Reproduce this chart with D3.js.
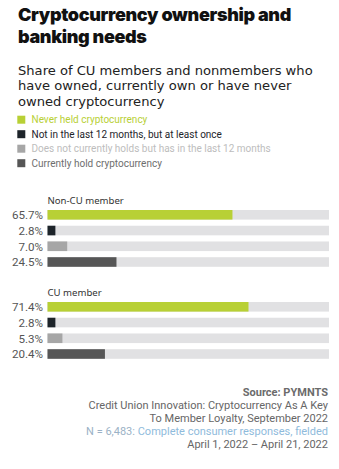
<!DOCTYPE html>
<html><head><meta charset="utf-8">
<script src="https://cdn.jsdelivr.net/npm/d3@7"></script>
<style>
html,body{margin:0;padding:0;background:#fff;}
svg{display:block;}
</style></head>
<body>
<script>
const categories = ["Never held cryptocurrency","Not in the last 12 months, but at least once","Does not currently holds but has in the last 12 months","Currently hold cryptocurrency"];
const groups = ["Non-CU member","CU member"];
const nonCUValues = [65.7, 2.8, 7.0, 24.5];
const cuValues = [71.4, 2.8, 5.3, 20.4];
const valueLabels = [["65.7%","2.8%","7.0%","24.5%"],["71.4%","2.8%","5.3%","20.4%"]];
const colors = ["#b8d035","#1d242a","#a6a6a6","#565656"];
const legendText = ["#b8d035","#1d242a","#bdbdbd","#6e6e6e"];

const W=339,H=469;
const svg=d3.select("body").append("svg").attr("width",W).attr("height",H);

const title=svg.append("text").attr("font-family","Inter").attr("font-weight",900).attr("font-size",18).attr("fill","#111").attr("letter-spacing",-0.35);
title.append("tspan").attr("x",18).attr("y",21).text("Cryptocurrency ownership and");
title.append("tspan").attr("x",18).attr("y",43).text("banking needs");

const sub=svg.append("text").attr("font-family","DejaVu Sans").attr("font-size",13.1).attr("fill","#222");
["Share of CU members and nonmembers who","have owned, currently own or have never","owned cryptocurrency"].forEach((t,i)=>{
  sub.append("tspan").attr("x",18).attr("y",74.5+i*15.5).text(t);
});

// legend
const leg=svg.append("g");
categories.forEach((c,i)=>{
  const y=115.7+i*14.5;
  leg.append("rect").attr("x",17.3).attr("y",y).attr("width",8).attr("height",8).attr("fill",colors[i]);
  leg.append("text").attr("x",31.5).attr("y",y+7.6).attr("font-family","Roboto").attr("font-size",10).attr("fill",legendText[i]).text(c);
});

const x=d3.scaleLinear().domain([0,100]).range([47.5,329]);
const series=[nonCUValues,cuValues];
const groupTop=[210,302];
const groupLabelY=[203.5,296];
series.forEach((vals,g)=>{
  const y=d3.scaleBand().domain(d3.range(vals.length)).range([groupTop[g],groupTop[g]+4*14.2]).paddingInner(0.39).paddingOuter(0);
  const gg=svg.append("g");
  gg.append("text").attr("x",47.5).attr("y",groupLabelY[g]).attr("font-family","Noto Sans").attr("font-size",9.6).attr("fill","#333").text(groups[g]);
  gg.selectAll(".track").data(vals).join("rect").attr("x",x(0)).attr("y",(d,i)=>y(i)).attr("width",x(100)-x(0)).attr("height",y.bandwidth()).attr("fill","#e1e1e3");
  gg.selectAll(".bar").data(vals).join("rect").attr("x",x(0)).attr("y",(d,i)=>y(i)).attr("width",d=>x(d)-x(0)).attr("height",y.bandwidth()).attr("fill",(d,i)=>colors[i]);
  gg.selectAll(".lab").data(vals).join("text").attr("x",43).attr("y",(d,i)=>y(i)+y.bandwidth()/2+4.3).attr("text-anchor","end").attr("font-family","Roboto").attr("font-size",11.6).attr("fill","#555").text((d,i)=>valueLabels[g][i]);
});

// footer
const foot=svg.append("g").attr("font-family","Roboto").attr("font-size",11).attr("text-anchor","end");
foot.append("text").attr("x",328).attr("y",396).attr("font-weight",700).attr("fill","#6b6b6b").text("Source: PYMNTS");
foot.append("text").attr("x",328).attr("y",409).attr("fill","#666").text("Credit Union Innovation: Cryptocurrency As A Key");
foot.append("text").attr("x",328).attr("y",422).attr("fill","#666").text("To Member Loyalty, September 2022");
const l4=foot.append("text").attr("x",328).attr("y",435);
l4.append("tspan").attr("fill","#9bb2c6").text("N = 6,483: ");
l4.append("tspan").attr("fill","#8fbbdc").text("Complete consumer responses, fielded");
foot.append("text").attr("x",328).attr("y",448).attr("fill","#666").text("April 1, 2022 \u2013 April 21, 2022");
</script>
</body></html>
